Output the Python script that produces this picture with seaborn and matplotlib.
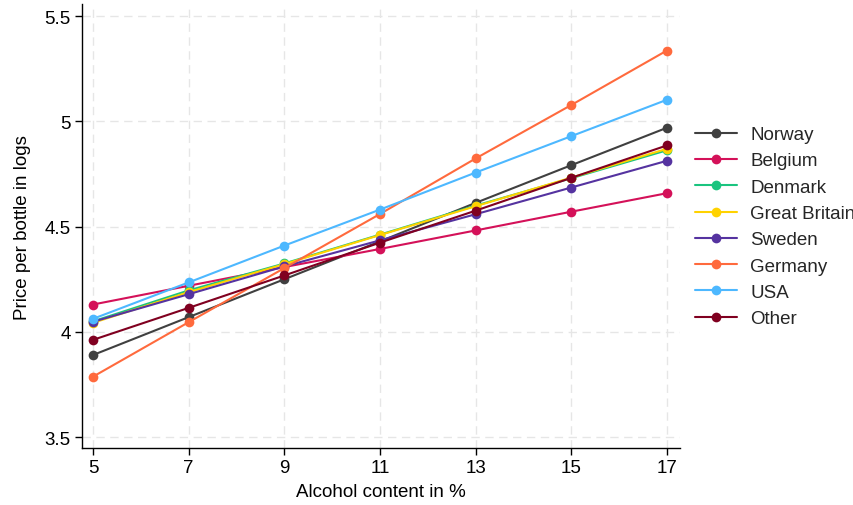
import matplotlib
matplotlib.use("Agg")
import matplotlib.pyplot as plt
import seaborn as sns
import pandas as pd

alcohol = [5, 7, 9, 11, 13, 15, 17]
countries = ["Norway", "Belgium", "Denmark", "Great Britain", "Sweden", "Germany", "USA", "Other"]
norway = [3.890, 4.070, 4.250, 4.430, 4.613, 4.792, 4.970]
belgium = [4.130, 4.219, 4.308, 4.394, 4.482, 4.571, 4.659]
denmark = [4.050, 4.197, 4.325, 4.462, 4.600, 4.730, 4.863]
great_britain = [4.043, 4.189, 4.322, 4.460, 4.597, 4.733, 4.870]
sweden = [4.048, 4.179, 4.311, 4.435, 4.559, 4.686, 4.813]
germany = [3.787, 4.046, 4.303, 4.560, 4.824, 5.078, 5.337]
usa = [4.062, 4.235, 4.410, 4.581, 4.757, 4.930, 5.103]
other = [3.962, 4.114, 4.268, 4.424, 4.576, 4.732, 4.886]
colors = ["#404040", "#d41159", "#1ac47f", "#ffd200", "#5533a0", "#ff6a3d", "#4db8ff", "#800020"]

series = [norway, belgium, denmark, great_britain, sweden, germany, usa, other]
rows = []
for name, vals in zip(countries, series):
    for a, v in zip(alcohol, vals):
        rows.append({"Alcohol content in %": a, "Price per bottle in logs": v, "country": name})
df = pd.DataFrame(rows)

sns.set_theme(style="white")
plt.rcParams["font.family"] = ["Liberation Sans", "DejaVu Sans"]

fig = plt.figure(figsize=(8.54, 5.06), dpi=100)
ax = fig.add_axes([0.096, 0.1126, 0.70, 0.877])

sns.lineplot(data=df, x="Alcohol content in %", y="Price per bottle in logs", hue="country",
             hue_order=countries, palette=colors, marker="o", markersize=7, markeredgewidth=0,
             linewidth=1.5, ax=ax)

ax.set_xlim(4.77, 17.27)
ax.set_ylim(3.448, 5.557)
ax.set_xticks(alcohol)
ax.set_yticks([3.5, 4, 4.5, 5, 5.5])
ax.set_yticklabels(["3.5", "4", "4.5", "5", "5.5"])
ax.grid(True, linestyle=(0, (6, 4)), color="#e6e6e6", linewidth=1)
for s in ["top", "right"]:
    ax.spines[s].set_visible(False)
for s in ["left", "bottom"]:
    ax.spines[s].set_color("black")
    ax.spines[s].set_linewidth(1)
ax.tick_params(axis="both", which="major", length=5, width=1, color="black",
               labelsize=13.5, bottom=True, left=True, pad=3, labelcolor="black")
ax.set_xlabel("Alcohol content in %", fontsize=13.5, color="black", labelpad=5)
ax.set_ylabel("Price per bottle in logs", fontsize=13.5, color="black", labelpad=10)

handles, labels = ax.get_legend_handles_labels()
ax.get_legend().remove()
fig.legend(handles, labels, loc="center left", bbox_to_anchor=(0.8138, 0.550),
           bbox_transform=fig.transFigure, frameon=False, fontsize=13.5,
           handlelength=2.25, labelspacing=0.49, handletextpad=0.7,
           borderpad=0, borderaxespad=0)

fig.savefig("out.png", dpi=100)
